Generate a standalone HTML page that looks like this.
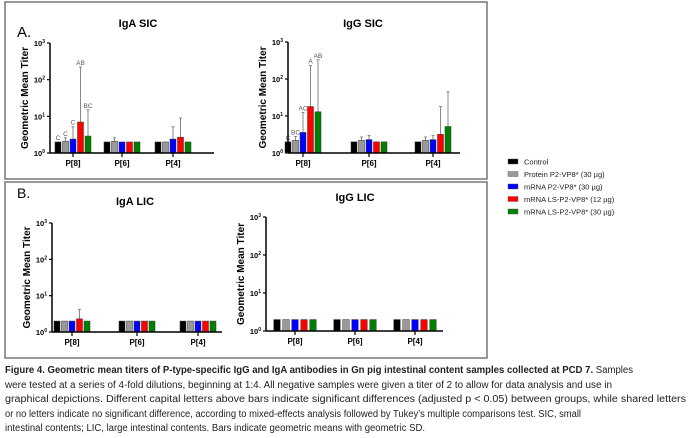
<!DOCTYPE html>
<html><head><meta charset="utf-8"><style>
body{margin:0;background:#fff;}
svg{display:block;font-family:"Liberation Sans",Arial,sans-serif;}
</style></head><body>
<svg id="fig" width="691" height="438" viewBox="0 0 691 438" xmlns="http://www.w3.org/2000/svg">
<rect x="5" y="2" width="482" height="177" fill="none" stroke="#777" stroke-width="1.5"/>
<rect x="5" y="182" width="482" height="176" fill="none" stroke="#777" stroke-width="1.5"/>
<text x="17" y="37" font-size="15">A.</text>
<text x="17" y="198" font-size="14">B.</text>
<g id="legend"></g>
<g id="charts"></g>
<g font-size="10" fill="#222">
<text x="5" y="373" textLength="628" lengthAdjust="spacingAndGlyphs"><tspan font-weight="bold">Figure 4. Geometric mean titers of P-type-specific IgG and IgA antibodies in Gn pig intestinal content samples collected at PCD 7.</tspan> Samples</text>
<text x="5" y="388" textLength="607" lengthAdjust="spacingAndGlyphs">were tested at a series of 4-fold dilutions, beginning at 1:4. All negative samples were given a titer of 2 to allow for data analysis and use in</text>
<text x="5" y="402" textLength="681" lengthAdjust="spacingAndGlyphs">graphical depictions. Different capital letters above bars indicate significant differences (adjusted p &lt; 0.05) between groups, while shared letters</text>
<text x="5" y="417" textLength="576" lengthAdjust="spacingAndGlyphs">or no letters indicate no significant difference, according to mixed-effects analysis followed by Tukey’s multiple comparisons test. SIC, small</text>
<text x="5" y="431" textLength="420" lengthAdjust="spacingAndGlyphs">intestinal contents; LIC, large intestinal contents. Bars indicate geometric means with geometric SD.</text>
</g>
</svg>
<script>
const categories = ["P[8]", "P[6]", "P[4]"];
const seriesNames = ["Control", "Protein P2-VP8* (30 µg)", "mRNA P2-VP8* (30 µg)", "mRNA LS-P2-VP8* (12 µg)", "mRNA LS-P2-VP8* (30 µg)"];
const seriesColors = ["#000000", "#999999", "#0000ff", "#ff0000", "#008000"];
const tickExps = [0, 1, 2, 3];
// IgA SIC
const igaSicMeans = [[2,2.1,2.4,7,2.9],[2,2.1,2,2,2],[2,2,2.4,2.7,2]];
const igaSicUpper = [[0,2.6,5.2,220,15],[0,2.6,0,0,0],[0,0,5.2,9,0]];
const igaSicLetters = [["C","C","C","AB","BC"],["","","","",""],["","","","",""]];
// IgG SIC
const iggSicMeans = [[2,2.2,3.6,18,13],[2,2.2,2.3,2,2],[2,2.2,2.3,3.2,5.2]];
const iggSicUpper = [[0,2.8,12.5,230,330],[0,2.7,3,0,0],[0,2.7,3,18,45]];
const iggSicLetters = [["C","BC","AC","A","AB"],["","","","",""],["","","","",""]];
// IgA LIC
const igaLicMeans = [[2,2,2,2.3,2],[2,2,2,2,2],[2,2,2,2,2]];
const igaLicUpper = [[0,0,0,4.2,0],[0,0,0,0,0],[0,0,0,0,0]];
// IgG LIC
const iggLicMeans = [[2,2,2,2,2],[2,2,2,2,2],[2,2,2,2,2]];
const iggLicUpper = [[0,0,0,0,0],[0,0,0,0,0],[0,0,0,0,0]];

const NS = "http://www.w3.org/2000/svg";
function mk(tag, attrs, parent){const e=document.createElementNS(NS,tag);for(const k in attrs)e.setAttribute(k,attrs[k]);parent.appendChild(e);return e;}

const charts = [
 {name:"iga-sic",title:"IgA SIC",ax:50,xEnd:214,yTop:43,yBot:153,gx:[73,122,173],bw:6,step:7.5,tx:138,ty:27,means:igaSicMeans,up:igaSicUpper,letters:igaSicLetters},
 {name:"igg-sic",title:"IgG SIC",ax:288,xEnd:460,yTop:42,yBot:153,gx:[303,369,433],bw:6,step:7.5,tx:363,ty:27,means:iggSicMeans,up:iggSicUpper,letters:iggSicLetters},
 {name:"iga-lic",title:"IgA LIC",ax:52,xEnd:222,yTop:223,yBot:332,gx:[72,137,198],bw:6,step:7.5,tx:135,ty:205,means:igaLicMeans,up:igaLicUpper,letters:null},
 {name:"igg-lic",title:"IgG LIC",ax:266,xEnd:443,yTop:217,yBot:331,gx:[295,355,415],bw:6.5,step:9,tx:355,ty:201,means:iggLicMeans,up:iggLicUpper,letters:null}
];
const root=document.getElementById("charts");
charts.forEach(c=>{
 const g=mk("g",{},root);
 
 
 const y=v=>c.yBot-(Math.log10(v)/3)*(c.yBot-c.yTop);
 const t=mk("text",{x:c.tx,y:c.ty,"font-size":"11","font-weight":"bold","text-anchor":"middle"},g);t.textContent=c.title;
 
 
 const yt=mk("text",{x:0,y:0,"font-size":"10","font-weight":"bold","text-anchor":"middle",transform:`translate(${c.ax-22},${(c.yTop+c.yBot)/2}) rotate(-90)`},g);yt.textContent="Geometric Mean Titer";
 
 
 tickExps.forEach(e=>{
  const yy=y(Math.pow(10,e));
  mk("line",{x1:c.ax-3,x2:c.ax,y1:yy,y2:yy,stroke:"#000","stroke-width":1.2},g);
  const tl=mk("text",{x:c.ax-5,y:yy+3,"font-size":"7.5","font-weight":"bold","text-anchor":"end"},g);
  tl.textContent="10";
  const sup=mk("tspan",{"font-size":"5",dy:"-3"},tl);sup.textContent=String(e);
  
  
 });
 c.means.forEach((grp,gi)=>{
  grp.forEach((v,si)=>{
   const cx=c.gx[gi]+(si-2)*c.step;
   const top=y(v);
   if(c.up[gi][si]>0){
    const uy=y(c.up[gi][si]);
    mk("line",{x1:cx,x2:cx,y1:uy,y2:top,stroke:"#888","stroke-width":1},g);
    mk("line",{x1:cx-1.5,x2:cx+1.5,y1:uy,y2:uy,stroke:"#888","stroke-width":1},g);
   }
   const b=mk("rect",{x:cx-c.bw/2,y:top,width:c.bw,height:c.yBot-top,fill:seriesColors[si],stroke:"#333","stroke-width":0.5},g);
   
   
   if(c.letters&&c.letters[gi][si]){
    const ly=(c.up[gi][si]>0?y(c.up[gi][si]):top)-2;
    const lt=mk("text",{x:cx,y:ly,"font-size":"6.5",fill:"#555","text-anchor":"middle"},g);lt.textContent=c.letters[gi][si];
    
    
   }
  });
  mk("line",{x1:c.gx[gi],x2:c.gx[gi],y1:c.yBot,y2:c.yBot+4,stroke:"#000","stroke-width":1.2},g);
  const xl=mk("text",{x:c.gx[gi],y:c.yBot+13,"font-size":"8","font-weight":"bold","text-anchor":"middle"},g);xl.textContent=categories[gi];
  
  
 });
 const ya=mk("line",{x1:c.ax,x2:c.ax,y1:c.yTop,y2:c.yBot,stroke:"#000","stroke-width":1.5},g);
 
 
 const xa=mk("line",{x1:c.ax,x2:c.xEnd,y1:c.yBot,y2:c.yBot,stroke:"#000","stroke-width":1.5},g);
 
 
});
const lg=document.getElementById("legend");
seriesNames.forEach((n,i)=>{
 const yy=162+i*12.5;
 const e=mk("g",{},lg);
 
 
 mk("rect",{x:508,y:yy-3,width:10,height:5,fill:seriesColors[i],stroke:"#555","stroke-width":0.4},e);
 const t=mk("text",{x:524,y:yy+2.5,"font-size":"7.5",fill:"#222"},e);t.textContent=n;
});
</script>
</body></html>
